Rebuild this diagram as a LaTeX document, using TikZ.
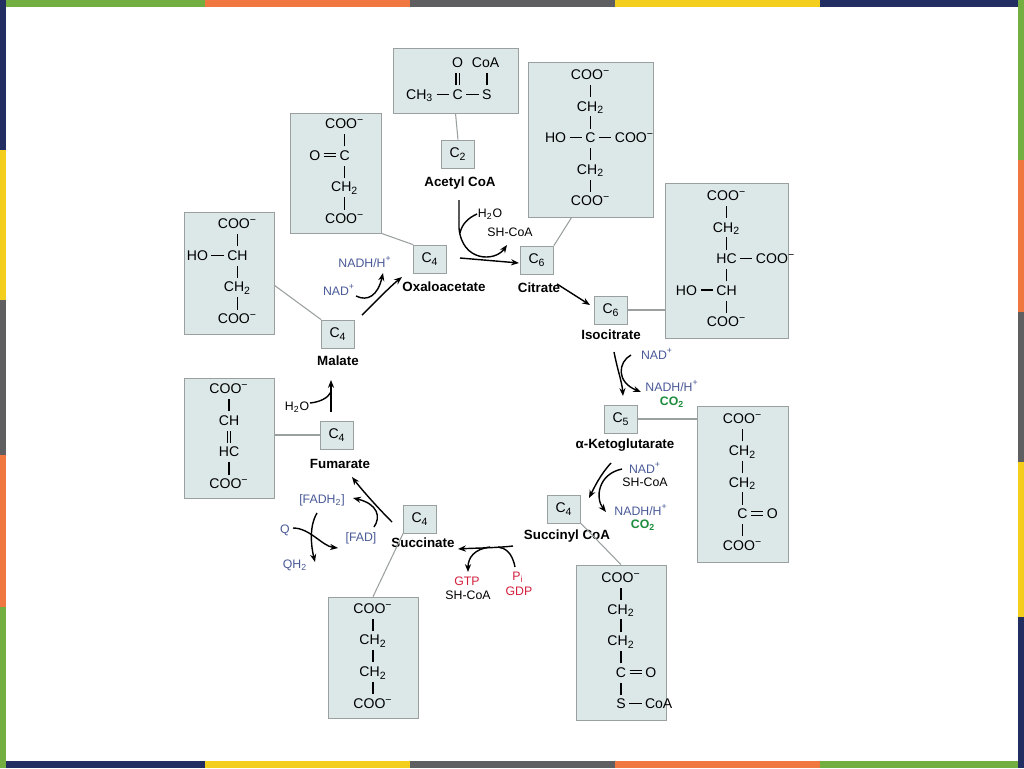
\documentclass[tikz,border=0pt]{standalone}
\usepackage{fontspec}
\setmainfont{Liberation Sans}
\setsansfont{Liberation Sans}
\usetikzlibrary{arrows.meta, calc}
\definecolor{boxfill}{HTML}{DCE8E8}
\definecolor{boxline}{HTML}{9A9FA0}
\definecolor{coblue}{HTML}{4A5A98}
\definecolor{cogreen}{HTML}{1C8C3C}
\definecolor{cored}{HTML}{D3203C}
\definecolor{bgreen}{HTML}{72AE40}
\definecolor{borange}{HTML}{F07840}
\definecolor{bgray}{HTML}{5F5F62}
\definecolor{byellow}{HTML}{F4CE1C}
\definecolor{bnavy}{HTML}{222E62}
\newcommand{\bnd}{\rule[-1pt]{0.8pt}{7pt}}
\newcommand{\dbnd}{\rule[-1pt]{0.7pt}{7pt}\hspace{1.2pt}\rule[-1pt]{0.7pt}{7pt}}
\newcommand{\hb}{\hspace{2pt}\rule[2.7pt]{7pt}{0.6pt}\hspace{2pt}}
\newcommand{\hdb}{\hspace{2pt}\rlap{\rule[1.8pt]{7pt}{0.6pt}}\rule[3.6pt]{7pt}{0.6pt}\hspace{2pt}}
\newcommand{\cminus}{\textsuperscript{−}}
\tikzset{
  struct/.style={draw=boxline, fill=boxfill, inner sep=0pt, font=\fontsize{8}{9}\selectfont},
  cbox/.style={draw=boxline, fill=boxfill, minimum width=0.66cm, minimum height=0.56cm, inner sep=0pt, font=\fontsize{8}{9}\selectfont},
  cname/.style={font=\bfseries\fontsize{7.6}{9}\selectfont},
  cofac/.style={font=\fontsize{7}{8}\selectfont, inner sep=1pt},
  link/.style={boxline, line width=0.6pt},
  cyc/.style={-{Stealth[length=4.5pt,width=3.5pt]}, line width=0.8pt},
}
\begin{document}
\begin{tikzpicture}[x=0.02cm, y=-0.02cm]
\useasboundingbox (0,0) rectangle (1024,768);
\fill[white] (0,0) rectangle (1024,768);
%---------------------------------------------------  frame bands
\fill[bgreen] (0,0) rectangle (205,7);   \fill[borange] (205,0) rectangle (410,7);
\fill[bgray] (410,0) rectangle (615,7);  \fill[byellow] (615,0) rectangle (820,7);
\fill[bnavy] (820,0) rectangle (1024,7);
\fill[bnavy] (0,761) rectangle (205,768); \fill[byellow] (205,761) rectangle (410,768);
\fill[bgray] (410,761) rectangle (615,768); \fill[borange] (615,761) rectangle (820,768);
\fill[bgreen] (820,761) rectangle (1024,768);
\fill[bnavy] (0,0) rectangle (6,150);    \fill[byellow] (0,150) rectangle (6,300);
\fill[bgray] (0,300) rectangle (6,455);  \fill[borange] (0,455) rectangle (6,607);
\fill[bgreen] (0,607) rectangle (6,768);
\fill[bgreen] (1018,0) rectangle (1024,160); \fill[borange] (1018,160) rectangle (1024,312);
\fill[bgray] (1018,312) rectangle (1024,462); \fill[byellow] (1018,462) rectangle (1024,617);
\fill[bnavy] (1018,617) rectangle (1024,768);
%---------------------------------------------------  structures
\node[struct, minimum width=2.5cm, minimum height=1.3cm] (acs) at (455.5,80.5)
  {\hspace{0.3em}\begin{tabular}{@{}c@{}} O\rlap{\hspace{5pt}CoA}\\ \dbnd\rlap{\hspace{15pt}\bnd}\\ \llap{CH\textsubscript{3}\hb}C\rlap{\hb S}\end{tabular}\hspace{1.8em}};
\node[struct, minimum width=1.82cm, minimum height=2.4cm] (oxs) at (335.5,173)
  {\hspace{1.3em}\begin{tabular}{@{}c@{}} COO\cminus\\ \bnd\\ \llap{O\hdb}C\\ \bnd\\ CH\textsubscript{2}\\ \bnd\\ COO\cminus\end{tabular}};
\node[struct, minimum width=2.5cm, minimum height=3.1cm] (cis) at (590.5,139.5)
  {\begin{tabular}{@{}c@{}} COO\cminus\\ \bnd\\ CH\textsubscript{2}\\ \bnd\\ \llap{HO\hb}C\rlap{\hb COO\cminus}\\ \bnd\\ CH\textsubscript{2}\\ \bnd\\ COO\cminus\end{tabular}};
\node[struct, minimum width=2.46cm, minimum height=3.1cm] (ics) at (726.5,260.5)
  {\begin{tabular}{@{}c@{}} COO\cminus\\ \bnd\\ CH\textsubscript{2}\\ \bnd\\ HC\rlap{\hb COO\cminus}\\ \bnd\\ \llap{HO\hb}CH\\ \bnd\\ COO\cminus\end{tabular}\hspace{0.3em}};
\node[struct, minimum width=1.82cm, minimum height=3.12cm] (kgs) at (742.5,484)
  {\begin{tabular}{@{}c@{}} COO\cminus\\ \bnd\\ CH\textsubscript{2}\\ \bnd\\ CH\textsubscript{2}\\ \bnd\\ C\rlap{\hdb O}\\ \bnd\\ COO\cminus\end{tabular}\hspace{1.0em}};
\node[struct, minimum width=1.8cm, minimum height=3.1cm] (scs) at (621,642.5)
  {\begin{tabular}{@{}c@{}} COO\cminus\\ \bnd\\ CH\textsubscript{2}\\ \bnd\\ CH\textsubscript{2}\\ \bnd\\ C\rlap{\hdb O}\\ \bnd\\ S\rlap{\hb CoA}\end{tabular}\hspace{1.6em}};
\node[struct, minimum width=1.8cm, minimum height=2.42cm] (sus) at (373,657.5)
  {\begin{tabular}{@{}c@{}} COO\cminus\\ \bnd\\ CH\textsubscript{2}\\ \bnd\\ CH\textsubscript{2}\\ \bnd\\ COO\cminus\end{tabular}};
\node[struct, minimum width=1.8cm, minimum height=2.4cm] (fus) at (229,438)
  {\begin{tabular}{@{}c@{}} COO\cminus\\ \bnd\\ CH\\ \dbnd\\ HC\\ \bnd\\ COO\cminus\end{tabular}};
\node[struct, minimum width=1.8cm, minimum height=2.44cm] (mas) at (229,273)
  {\hspace{1.2em}\begin{tabular}{@{}c@{}} COO\cminus\\ \bnd\\ \llap{HO\hb}CH\\ \bnd\\ CH\textsubscript{2}\\ \bnd\\ COO\cminus\end{tabular}};
%---------------------------------------------------  carbon boxes and names
\node[cbox] (c2) at (458,154) {C\textsubscript{2}};
\node[cbox] (c4o) at (430,259) {C\textsubscript{4}};
\node[cbox] (c6c) at (537,260) {C\textsubscript{6}};
\node[cbox] (c6i) at (611,310) {C\textsubscript{6}};
\node[cbox] (c5) at (621,419) {C\textsubscript{5}};
\node[cbox] (c4sc) at (564,509) {C\textsubscript{4}};
\node[cbox] (c4s) at (420,519) {C\textsubscript{4}};
\node[cbox] (c4f) at (337,435) {C\textsubscript{4}};
\node[cbox] (c4m) at (338,334) {C\textsubscript{4}};
\node[cname] (nac) at (460,183) {Acetyl CoA};
\node[cname] (nox) at (444,287) {Oxaloacetate};
\node[cname] (nci) at (539,288) {Citrate};
\node[cname] (nic) at (611,335) {Isocitrate};
\node[cname] (nkg) at (625,445) {α-Ketoglutarate};
\node[cname] (nsc) at (567,536) {Succinyl CoA};
\node[cname] (nsu) at (423,543) {Succinate};
\node[cname] (nfu) at (340,464) {Fumarate};
\node[cname] (nma) at (338,361) {Malate};
%---------------------------------------------------  links
\draw[link] (acs.south) -- (c2.north);
\draw[link] (oxs.south east) -- (c4o.north west);
\draw[link] ($(cis.south west)!0.35!(cis.south east)$) -- (c6c.north east);
\draw[link] (c6i.east) -- (ics.west |- c6i.east);
\draw[link] (c5.east) -- (kgs.west |- c5.east);
\draw[link] (c4sc.south east) -- ($(scs.north west)!0.5!(scs.north east)$);
\draw[link] (c4s.south west) -- ($(sus.north west)!0.5!(sus.north east)$);
\draw[link] (fus.east |- c4f.west) -- (c4f.west);
\draw[link] ($(mas.north east)!0.6!(mas.south east)$) -- (c4m.north west);
%---------------------------------------------------  cofactors
\node[cofac] (h2oa) at (490,214) {H\textsubscript{2}O};
\node[cofac] (shca) at (510,232) {SH-CoA};
\node[cofac, text=coblue] (nad1) at (657,354) {NAD\textsuperscript{+}};
\node[cofac, text=coblue] (nadh1) at (672,386) {NADH/H\textsuperscript{+}};
\node[cofac, text=cogreen, font=\bfseries\fontsize{7}{8}\selectfont] (co1) at (672,402) {CO\textsubscript{2}};
\node[cofac, text=coblue] (nad2) at (645,468) {NAD\textsuperscript{+}};
\node[cofac] (shc2) at (645,482) {SH-CoA};
\node[cofac, text=coblue] (nadh2) at (641,510) {NADH/H\textsuperscript{+}};
\node[cofac, text=cogreen, font=\bfseries\fontsize{7}{8}\selectfont] (co2) at (643,525) {CO\textsubscript{2}};
\node[cofac, text=cored] (pi) at (518,577) {P\textsubscript{i}};
\node[cofac, text=cored] (gdp) at (519,591) {GDP};
\node[cofac, text=cored] (gtp) at (467,581) {GTP};
\node[cofac] (shc3) at (468,595) {SH-CoA};
\node[cofac, text=coblue] (fad) at (361,538) {[FAD]};
\node[cofac, text=coblue] (fadh) at (322,500) {[FADH\textsubscript{2}]};
\node[cofac, text=coblue] (q) at (285,530) {Q};
\node[cofac, text=coblue] (qh) at (295,565) {QH\textsubscript{2}};
\node[cofac] (h2om) at (297,407) {H\textsubscript{2}O};
\node[cofac, text=coblue] (nad3) at (339,290) {NAD\textsuperscript{+}};
\node[cofac, text=coblue] (nadh3) at (365,262) {NADH/H\textsuperscript{+}};
%---------------------------------------------------  cycle arrows
\draw[cyc] (460,258) -- (519,263);
\draw[cyc] (459,200) -- (459,228) .. controls (462,262) and (495,262) .. (507,245);
\draw[line width=0.8pt] (477,214) .. controls (468,218) and (462,224) .. (460,233);
\draw[cyc] (557,284) -- (590,305);
\draw[cyc] (614,352) .. controls (618,372) and (622,382) .. (623,396);
\draw[cyc] (631,355) .. controls (618,362) and (616,382) .. (641,392);
\draw[cyc] (611,463) .. controls (600,475) and (594,488) .. (589,498);
\draw[cyc] (622,469) .. controls (598,474) and (595,498) .. (606,512);
\draw[cyc] (513,546) .. controls (495,548) and (475,548) .. (458,549);
\draw[line width=0.8pt] (515,567) .. controls (512,552) and (505,548) .. (498,547);
\draw[cyc] (490,547) .. controls (474,549) and (468,558) .. (468,572);
\draw[cyc] (392,522) .. controls (378,508) and (362,490) .. (352,477);
\draw[cyc] (374,527) .. controls (381,517) and (378,504) .. (353,498);
\draw[cyc] (293,528) .. controls (310,528) and (322,546) .. (338,548);
\draw[cyc] (317,513) .. controls (308,528) and (312,550) .. (315,562);
\draw[cyc] (331,412) -- (331,380);
\draw[line width=0.8pt] (310,403) .. controls (320,402) and (328,398) .. (331,392);
\draw[cyc] (362,315) .. controls (380,297) and (392,285) .. (402,277);
\draw[cyc] (356,296) .. controls (368,302) and (378,295) .. (383,273);
\end{tikzpicture}
\end{document}
